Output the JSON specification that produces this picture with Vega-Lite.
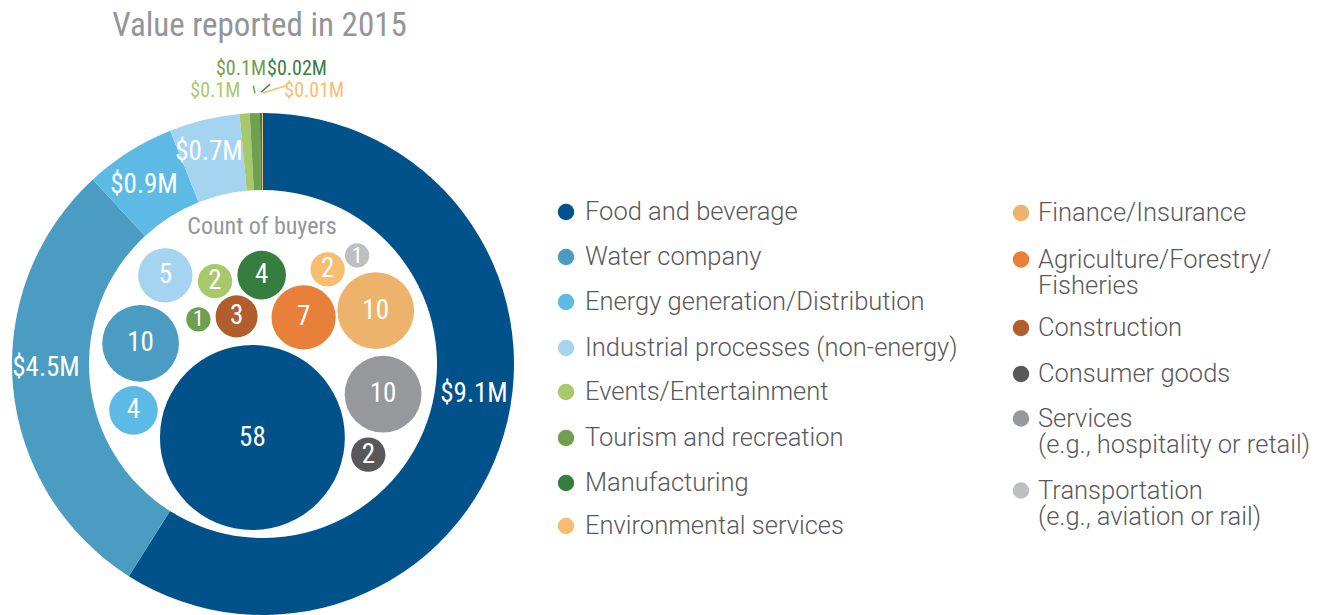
{
  "$schema": "https://vega.github.io/schema/vega-lite/v6.json",
  "width": 1330,
  "height": 615,
  "padding": 0,
  "autosize": {"type": "none"},
  "background": "white",
  "config": {"view": {"stroke": null}},
  "datasets": {
    "cats": [
      {"cat": "Food and beverage", "value": 9.1, "ord": 1, "count": 58, "cx": -10.6, "cy": -73.5},
      {"cat": "Water company", "value": 4.5, "ord": 2, "count": 10, "cx": -122.4, "cy": 20.6},
      {"cat": "Energy generation/Distribution", "value": 0.9, "ord": 3, "count": 4, "cx": -129.5, "cy": -46.4},
      {"cat": "Industrial processes (non-energy)", "value": 0.7, "ord": 4, "count": 5, "cx": -97.7, "cy": 88.6},
      {"cat": "Events/Entertainment", "value": 0.1, "ord": 5, "count": 2, "cx": -48, "cy": 82.8},
      {"cat": "Tourism and recreation", "value": 0.1, "ord": 6, "count": 1, "cx": -64.6, "cy": 44.6},
      {"cat": "Manufacturing", "value": 0.02, "ord": 7, "count": 4, "cx": -1.3, "cy": 88.9},
      {"cat": "Environmental services", "value": 0.01, "ord": 8, "count": 2, "cx": 64.6, "cy": 94.7},
      {"cat": "Finance/Insurance", "value": null, "ord": 9, "count": 10, "cx": 112.7, "cy": 53.4},
      {"cat": "Agriculture/Forestry/Fisheries", "value": null, "ord": 10, "count": 7, "cx": 40.6, "cy": 46.6},
      {"cat": "Construction", "value": null, "ord": 11, "count": 3, "cx": -26.4, "cy": 47.6},
      {"cat": "Consumer goods", "value": null, "ord": 12, "count": 2, "cx": 105.3, "cy": -90.7},
      {"cat": "Services", "value": null, "ord": 13, "count": 10, "cx": 120.1, "cy": -30.2},
      {"cat": "Transportation", "value": null, "ord": 14, "count": 1, "cx": 94.1, "cy": 108.5}
    ],
    "ringLabels": [
      {"cat": "Food and beverage", "label": "$9.1M", "place": "in", "lx": 211, "ly": -30},
      {"cat": "Water company", "label": "$4.5M", "place": "in", "lx": -217, "ly": -4},
      {"cat": "Energy generation/Distribution", "label": "$0.9M", "place": "in", "lx": -119, "ly": 179},
      {"cat": "Industrial processes (non-energy)", "label": "$0.7M", "place": "in", "lx": -54, "ly": 212.5},
      {"cat": "Events/Entertainment", "label": "$0.1M", "place": "out", "lx": -47.7, "ly": 273},
      {"cat": "Tourism and recreation", "label": "$0.1M", "place": "out", "lx": -22, "ly": 295},
      {"cat": "Manufacturing", "label": "$0.02M", "place": "out", "lx": 34, "ly": 295},
      {"cat": "Environmental services", "label": "$0.01M", "place": "out", "lx": 51.2, "ly": 273}
    ],
    "leaders": [
      {"cat": "Tourism and recreation", "x1": -9.7, "y1": 278.3, "x2": -8, "y2": 270.7},
      {"cat": "Manufacturing", "x1": 7, "y1": 279.7, "x2": -2, "y2": 271.7},
      {"cat": "Environmental services", "x1": 22.7, "y1": 278.3, "x2": 0, "y2": 271}
    ],
    "legend": [
      {"cat": "Food and beverage", "label": "Food and beverage", "dx": 303, "tx": 322, "ty": 152},
      {"cat": "Water company", "label": "Water company", "dx": 303, "tx": 322, "ty": 107},
      {"cat": "Energy generation/Distribution", "label": "Energy generation/Distribution", "dx": 303, "tx": 322, "ty": 62},
      {"cat": "Industrial processes (non-energy)", "label": "Industrial processes (non-energy)", "dx": 303, "tx": 322, "ty": 16},
      {"cat": "Events/Entertainment", "label": "Events/Entertainment", "dx": 303, "tx": 322, "ty": -28},
      {"cat": "Tourism and recreation", "label": "Tourism and recreation", "dx": 303, "tx": 322, "ty": -74},
      {"cat": "Manufacturing", "label": "Manufacturing", "dx": 303, "tx": 322, "ty": -119},
      {"cat": "Environmental services", "label": "Environmental services", "dx": 303, "tx": 322, "ty": -162},
      {"cat": "Finance/Insurance", "label": "Finance/Insurance", "dx": 758, "tx": 775, "ty": 151},
      {"cat": "Agriculture/Forestry/Fisheries", "label": "Agriculture/Forestry/\nFisheries", "dx": 758, "tx": 775, "ty": 104.5},
      {"cat": "Construction", "label": "Construction", "dx": 758, "tx": 775, "ty": 36},
      {"cat": "Consumer goods", "label": "Consumer goods", "dx": 758, "tx": 775, "ty": -10},
      {"cat": "Services", "label": "Services\n(e.g., hospitality or retail)", "dx": 758, "tx": 775, "ty": -54.5},
      {"cat": "Transportation", "label": "Transportation\n(e.g., aviation or rail)", "dx": 758, "tx": 775, "ty": -126.5}
    ],
    "titles": [
      {"text": "Value reported in 2015", "kind": "title", "ax": -3.5, "ay": 338},
      {"text": "Count of buyers", "kind": "sub", "ax": -1, "ay": 137}
    ]
  },
  "layer": [
    {
      "data": {"name": "cats"},
      "transform": [{"filter": "datum.value > 0"}],
      "mark": {"type": "arc", "radius": 251, "radius2": 174},
      "encoding": {
        "theta": {"field": "value", "type": "quantitative", "stack": true},
        "order": {"field": "ord", "type": "quantitative"},
        "x": {"datum": 0, "type": "quantitative", "scale": {"domain": [-263, 1067], "nice": false, "zero": false}, "axis": null},
        "y": {"datum": 0, "type": "quantitative", "scale": {"domain": [-251, 364], "nice": false, "zero": false}, "axis": null},
        "color": {
          "field": "cat", "type": "nominal", "legend": null,
          "scale": {
            "domain": ["Food and beverage", "Water company", "Energy generation/Distribution", "Industrial processes (non-energy)", "Events/Entertainment", "Tourism and recreation", "Manufacturing", "Environmental services", "Finance/Insurance", "Agriculture/Forestry/Fisheries", "Construction", "Consumer goods", "Services", "Transportation"],
            "range": ["#01528a", "#4b9cc3", "#5dbae5", "#a4d4ef", "#a7c96c", "#6fa04f", "#367e3e", "#f8bd6f", "#edb36d", "#e8803a", "#b15d2c", "#58585a", "#97989b", "#bebfc1"]
          }
        }
      }
    },
    {
      "data": {"name": "cats"},
      "mark": {"type": "point", "shape": "circle", "filled": true, "opacity": 1},
      "encoding": {
        "x": {"field": "cx", "type": "quantitative"},
        "y": {"field": "cy", "type": "quantitative"},
        "size": {"field": "count", "type": "quantitative", "legend": null, "scale": {"type": "linear", "zero": true, "domain": [0, 58], "range": [0, 34200]}},
        "color": {"field": "cat", "type": "nominal"}
      }
    },
    {
      "data": {"name": "cats"},
      "mark": {"type": "text", "color": "white", "font": "Roboto Condensed", "align": "center", "baseline": "middle"},
      "encoding": {
        "x": {"field": "cx", "type": "quantitative"},
        "y": {"field": "cy", "type": "quantitative"},
        "text": {"field": "count", "type": "quantitative"},
        "size": {"field": "count", "type": "quantitative", "legend": null, "scale": {"type": "threshold", "domain": [2], "range": [22, 27]}}
      }
    },
    {
      "data": {"name": "ringLabels"},
      "transform": [{"filter": "datum.place === 'in'"}],
      "mark": {"type": "text", "color": "white", "fontSize": 27, "font": "Roboto Condensed", "align": "center", "baseline": "middle"},
      "encoding": {
        "x": {"field": "lx", "type": "quantitative"},
        "y": {"field": "ly", "type": "quantitative"},
        "text": {"field": "label", "type": "nominal"}
      }
    },
    {
      "data": {"name": "ringLabels"},
      "transform": [{"filter": "datum.place === 'out'"}],
      "mark": {"type": "text", "fontSize": 20, "font": "Roboto Condensed", "align": "center", "baseline": "middle"},
      "encoding": {
        "x": {"field": "lx", "type": "quantitative"},
        "y": {"field": "ly", "type": "quantitative"},
        "text": {"field": "label", "type": "nominal"},
        "color": {"field": "cat", "type": "nominal"}
      }
    },
    {
      "data": {"name": "leaders"},
      "mark": {"type": "rule", "strokeWidth": 1.5},
      "encoding": {
        "x": {"field": "x1", "type": "quantitative"},
        "y": {"field": "y1", "type": "quantitative"},
        "x2": {"field": "x2"},
        "y2": {"field": "y2"},
        "color": {"field": "cat", "type": "nominal"}
      }
    },
    {
      "data": {"name": "titles"},
      "mark": {"type": "text", "color": "#939598", "font": "Roboto Condensed", "align": "center", "baseline": "middle"},
      "encoding": {
        "x": {"field": "ax", "type": "quantitative"},
        "y": {"field": "ay", "type": "quantitative"},
        "text": {"field": "text", "type": "nominal"},
        "size": {"field": "kind", "type": "nominal", "legend": null, "scale": {"domain": ["title", "sub"], "range": [33, 24]}}
      }
    },
    {
      "data": {"name": "legend"},
      "mark": {"type": "point", "shape": "circle", "filled": true, "opacity": 1, "size": 270},
      "encoding": {
        "x": {"field": "dx", "type": "quantitative"},
        "y": {"field": "ty", "type": "quantitative"},
        "color": {"field": "cat", "type": "nominal"}
      }
    },
    {
      "data": {"name": "legend"},
      "mark": {"type": "text", "color": "#58595b", "fontSize": 25.5, "fontWeight": 300, "font": "Roboto", "align": "left", "baseline": "top", "dy": -12, "lineBreak": "\n", "lineHeight": 26.5},
      "encoding": {
        "x": {"field": "tx", "type": "quantitative"},
        "y": {"field": "ty", "type": "quantitative"},
        "text": {"field": "label", "type": "nominal"}
      }
    }
  ]
}
